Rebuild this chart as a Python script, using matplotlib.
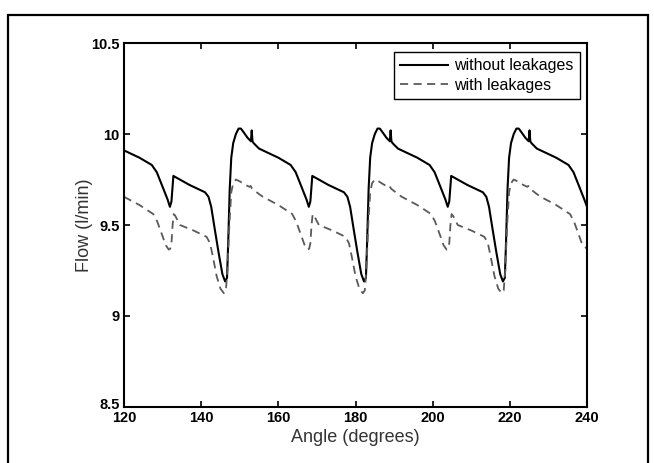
import matplotlib
matplotlib.use("Agg")
import matplotlib.pyplot as plt
from matplotlib.patches import Rectangle
import matplotlib.transforms as mtransforms

plt.rcParams['font.family'] = ['Liberation Sans', 'DejaVu Sans']

# Flow without leakages (l/min) vs. shaft angle (degrees)
angle_tight = [
    120, 124, 127.2, 128.5, 130, 131.3, 131.9, 132.3, 132.8, 133.2, 137, 141, 141.9, 142.6,
    143.5, 144.5, 145.5, 146.2, 146.7, 147.0, 147.4, 147.8, 148.3, 149.0, 149.7, 150.3,
    151.0, 152.0, 152.9, 153.1, 153.3, 153.6, 155.0,
    156, 160, 163.2, 164.5, 166, 167.3, 167.9, 168.3, 168.8, 169.2, 173, 177, 177.9, 178.6,
    179.5, 180.5, 181.5, 182.2, 182.7, 183.0, 183.4, 183.8, 184.3, 185.0, 185.7, 186.3,
    187.0, 188.0, 188.9, 189.1, 189.3, 189.6, 191.0,
    192, 196, 199.2, 200.5, 202, 203.3, 203.9, 204.3, 204.8, 205.2, 209, 213, 213.9, 214.6,
    215.5, 216.5, 217.5, 218.2, 218.7, 219.0, 219.4, 219.8, 220.3, 221.0, 221.7, 222.3,
    223.0, 224.0, 224.9, 225.1, 225.3, 225.6, 227.0,
    228, 232, 235.2, 236.5, 238, 239.3, 240,
]
flow_tight = [
    9.91, 9.87, 9.83, 9.79, 9.71, 9.64, 9.60, 9.63, 9.77, 9.765, 9.72, 9.68, 9.655, 9.60,
    9.48, 9.35, 9.23, 9.19, 9.21, 9.40, 9.70, 9.87, 9.95, 10.00, 10.03, 10.03,
    10.01, 9.98, 9.96, 10.02, 9.96, 9.95, 9.92,
    9.91, 9.87, 9.83, 9.79, 9.71, 9.64, 9.60, 9.63, 9.77, 9.765, 9.72, 9.68, 9.655, 9.60,
    9.48, 9.35, 9.23, 9.19, 9.21, 9.40, 9.70, 9.87, 9.95, 10.00, 10.03, 10.03,
    10.01, 9.98, 9.96, 10.02, 9.96, 9.95, 9.92,
    9.91, 9.87, 9.83, 9.79, 9.71, 9.64, 9.60, 9.63, 9.77, 9.765, 9.72, 9.68, 9.655, 9.60,
    9.48, 9.35, 9.23, 9.19, 9.21, 9.40, 9.70, 9.87, 9.95, 10.00, 10.03, 10.03,
    10.01, 9.98, 9.96, 10.02, 9.96, 9.95, 9.92,
    9.91, 9.87, 9.83, 9.79, 9.71, 9.64, 9.60,
]

# Flow with leakages (l/min)
angle_leak = [
    120, 124, 127.6, 128.6, 129.8, 130.8, 131.6, 132.0, 132.3, 132.6, 132.9, 133.3, 134.5,
    138, 141.4, 142.3, 143.0, 144.0, 145.0, 145.9, 146.4, 146.8, 147.3, 147.8, 148.3,
    149.0, 150.0, 151.5, 152.5, 152.8, 153.2, 155.0,
    156, 160, 163.6, 164.6, 165.8, 166.8, 167.6, 168.0, 168.3, 168.6, 168.9, 169.3, 170.5,
    174, 177.4, 178.3, 179.0, 180.0, 181.0, 181.9, 182.4, 182.8, 183.3, 183.8, 184.3,
    185.0, 186.0, 187.5, 188.5, 188.8, 189.2, 191.0,
    192, 196, 199.6, 200.6, 201.8, 202.8, 203.6, 204.0, 204.3, 204.6, 204.9, 205.3, 206.5,
    210, 213.4, 214.3, 215.0, 216.0, 217.0, 217.9, 218.4, 218.8, 219.3, 219.8, 220.3,
    221.0, 222.0, 223.5, 224.5, 224.8, 225.2, 227.0,
    228, 232, 235.6, 236.6, 237.8, 238.8, 240,
]
flow_leak = [
    9.655, 9.61, 9.56, 9.52, 9.45, 9.39, 9.365, 9.37, 9.40, 9.50, 9.56, 9.55, 9.50,
    9.47, 9.435, 9.40, 9.33, 9.22, 9.15, 9.125, 9.14, 9.25, 9.50, 9.68, 9.73,
    9.75, 9.74, 9.72, 9.71, 9.715, 9.70, 9.67,
    9.655, 9.61, 9.56, 9.52, 9.45, 9.39, 9.365, 9.37, 9.40, 9.50, 9.56, 9.55, 9.50,
    9.47, 9.435, 9.40, 9.33, 9.22, 9.15, 9.125, 9.14, 9.25, 9.50, 9.68, 9.73,
    9.75, 9.74, 9.72, 9.71, 9.715, 9.70, 9.67,
    9.655, 9.61, 9.56, 9.52, 9.45, 9.39, 9.365, 9.37, 9.40, 9.50, 9.56, 9.55, 9.50,
    9.47, 9.435, 9.40, 9.33, 9.22, 9.15, 9.125, 9.14, 9.25, 9.50, 9.68, 9.73,
    9.75, 9.74, 9.72, 9.71, 9.715, 9.70, 9.67,
    9.655, 9.61, 9.56, 9.52, 9.45, 9.39, 9.37,
]

x_ticks = [120, 140, 160, 180, 200, 220, 240]
y_ticks = [8.5, 9, 9.5, 10, 10.5]
y_tick_labels = ["8.5", "9", "9.5", "10", "10.5"]

fig = plt.figure(figsize=(6.54, 4.63), dpi=100)
ax = fig.add_axes([0.1896, 0.1210, 0.708, 0.786])

ax.plot(angle_tight, flow_tight, color='black', lw=1.5, label='without leakages')
ax.plot(angle_leak, flow_leak, color='#5a5a5a', lw=1.3, ls=(0, (4.5, 3)),
        label='with leakages')

ax.set_xlim(120, 240)
ax.set_ylim(8.5, 10.5)
ax.set_xticks(x_ticks)
ax.set_yticks(y_ticks)
ax.set_yticklabels(y_tick_labels)
ax.tick_params(direction='in', length=4, width=1.2, top=True, right=True,
               labelsize=10.5, pad=3)
for lab in ax.get_xticklabels() + ax.get_yticklabels():
    lab.set_fontweight('bold')

# lift the bottom y label slightly so it clears the first x label
bottom_lab = ax.get_yticklabels()[0]
bottom_lab.set_transform(bottom_lab.get_transform() +
                         mtransforms.ScaledTranslation(0, 3 / 100, fig.dpi_scale_trans))

for sp in ax.spines.values():
    sp.set_linewidth(1.5)

ax.set_xlabel('Angle (degrees)', fontsize=13, color='#333333', labelpad=2.5)
ax.set_ylabel('Flow (l/min)', fontsize=13, color='#333333', labelpad=-1)

leg = ax.legend(loc='upper right', bbox_to_anchor=(0.985, 0.976), borderaxespad=0,
                fontsize=11.5, handlelength=3.0, handletextpad=0.4, labelspacing=0.3,
                fancybox=False, framealpha=1, edgecolor='black', borderpad=0.4)
leg.get_frame().set_linewidth(1.0)

# frame around the whole figure
fig.patches.append(Rectangle((7.5 / 654, -0.05), (648 - 7.5) / 654, 1 - 15 / 463 + 0.05,
                             transform=fig.transFigure, fill=False, ec='black', lw=1.6))

fig.savefig('out.png', dpi=100)
